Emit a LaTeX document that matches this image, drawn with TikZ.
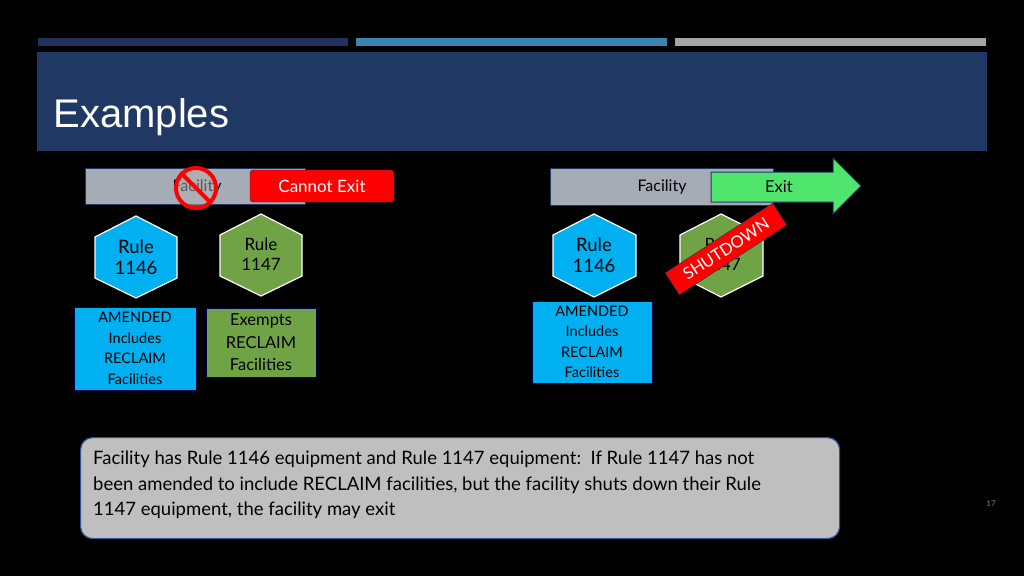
\documentclass[tikz,border=0pt]{standalone}
\usepackage{fontspec}
\setmainfont{Lato}
\newfontfamily\arial{Liberation Sans}
\begin{document}
\begin{tikzpicture}[x=1pt,y=-1pt,
  hexa/.style={draw=white,line width=1.2pt},
  lbl/.style={font=\fontsize{18.5}{21}\selectfont,align=center,text=black},
  sbox/.style={draw=black!70!blue,line width=0.8pt,font=\fontsize{14}{19}\selectfont,align=center,text=black,inner sep=0pt},
  fbar/.style={fill={rgb,255:red,166;green,172;blue,182},draw={rgb,255:red,31;green,56;blue,100},line width=1pt}]
\fill[black] (0,0) rectangle (1024,576);
\useasboundingbox (0,0) rectangle (1024,576);
\fill[color={rgb,255:red,34;green,50;blue,92}] (38,38) rectangle (348,46);
\fill[color={rgb,255:red,58;green,134;blue,176}] (356,38) rectangle (667,46);
\fill[color={rgb,255:red,165;green,165;blue,165}] (675,38) rectangle (986,46);
\fill[color={rgb,255:red,31;green,56;blue,100}] (37,52) rectangle (987,151);
\node[anchor=west,text=white,font=\arial\fontsize{40}{40}\selectfont] (title) at (50,117) {Examples};
% left
\draw[fbar] (85,168) rectangle (305,204);
\node[font=\fontsize{16}{16}\selectfont] (fac1) at (197,187) {Facility};
\node[draw={rgb,255:red,31;green,56;blue,100},fill=red,rounded corners=3pt,minimum width=144pt,minimum height=32pt,text=white,font=\fontsize{17}{17}\selectfont] (ce) at (322,186) {Cannot Exit};
\node[circle,draw=red,line width=4pt,minimum size=40pt,fill=gray!60,fill opacity=0.5] (no) at (196,188) {};
\draw[red,line width=4pt] (no.north west) -- (no.south east);
\filldraw[hexa,fill={rgb,255:red,0;green,176;blue,240}] (136,216) -- (177,237) -- (177,278) -- (136,298) -- (95,278) -- (95,237) -- cycle;
\node[lbl] (h1) at (136,257) {Rule\\1146};
\filldraw[hexa,fill={rgb,255:red,112;green,163;blue,70}] (261,214) -- (302,235) -- (302,276) -- (261,296) -- (220,276) -- (220,235) -- cycle;
\node[lbl,font=\fontsize{17}{20}\selectfont] (h2) at (261,254) {Rule\\1147};
\node[sbox,fill={rgb,255:red,0;green,176;blue,240},minimum width=122pt,minimum height=83pt,font=\fontsize{14.5}{20.5}\selectfont] (a1) at (135,348.5) {AMENDED\\Includes\\RECLAIM\\Facilities};
\node[sbox,fill={rgb,255:red,112;green,163;blue,70},minimum width=110pt,minimum height=69pt,font=\fontsize{16.5}{22.5}\selectfont] (ex) at (261,342.5) {Exempts\\RECLAIM\\Facilities};
% right
\draw[fbar] (550,168) rectangle (773,205);
\node[font=\fontsize{16}{16}\selectfont] (fac2) at (662,187) {Facility};
\filldraw[fill={rgb,255:red,80;green,230;blue,110},draw={rgb,255:red,31;green,56;blue,100},line width=1pt] (711,172) -- (833,172) -- (833,158) -- (861,186) -- (833,214) -- (833,202) -- (711,202) -- cycle;
\node[font=\fontsize{16.5}{16}\selectfont] (exit) at (779,187) {Exit};
\filldraw[hexa,fill={rgb,255:red,0;green,176;blue,240}] (594,214) -- (636,235) -- (636,276) -- (594,297) -- (553,276) -- (553,235) -- cycle;
\node[lbl] (h3) at (594,255) {Rule\\1146};
\filldraw[hexa,fill={rgb,255:red,112;green,163;blue,70}] (721,214) -- (763,235) -- (763,276) -- (721,297) -- (680,276) -- (680,235) -- cycle;
\node[lbl,font=\fontsize{17}{20}\selectfont] (h4) at (721,254) {Rule\\1147};
\node[draw={rgb,255:red,31;green,56;blue,100},fill=red,rotate=33,minimum width=128pt,minimum height=26pt,text=white,font=\fontsize{16.5}{16}\selectfont,inner sep=0pt] (sd) at (726,249) {SHUTDOWN};
\node[sbox,fill={rgb,255:red,0;green,176;blue,240},minimum width=120pt,minimum height=82pt,font=\fontsize{14.5}{20.5}\selectfont] (a2) at (592,342) {AMENDED\\Includes\\RECLAIM\\Facilities};
% bottom
\node[draw={rgb,255:red,47;green,85;blue,151},line width=1.2pt,fill={rgb,255:red,191;green,191;blue,191},rounded corners=12pt,minimum width=759pt,minimum height=101pt,anchor=north west,inner sep=0pt] (bot) at (80,437) {};
\node[anchor=north west,align=left,font=\fontsize{18.5}{25.5}\selectfont,inner sep=0pt] (bt) at (93,451) {Facility has Rule 1146 equipment and Rule 1147 equipment:\ \ If Rule 1147 has not\\been amended to include RECLAIM facilities, but the facility shuts down their Rule\\1147 equipment, the facility may exit};
\node[text=gray,font=\fontsize{8}{8}\selectfont] (pg) at (991,504) {17};
\end{tikzpicture}
\end{document}
